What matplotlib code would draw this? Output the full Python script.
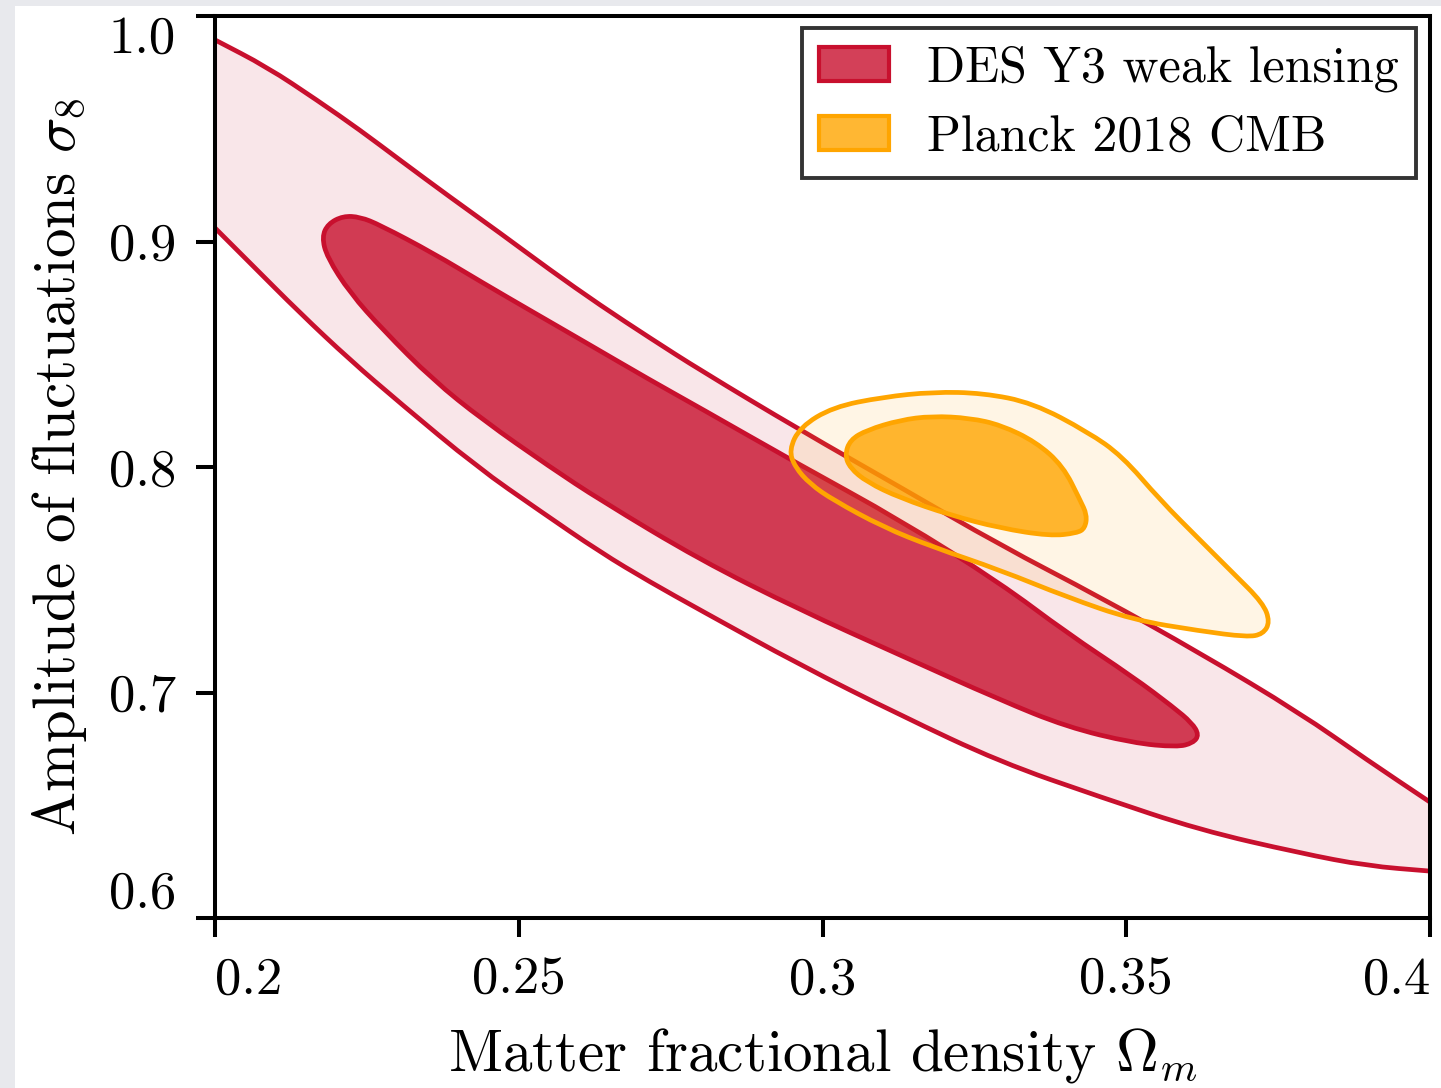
import matplotlib
matplotlib.use("Agg")
import numpy as np
import matplotlib.pyplot as plt
from matplotlib.patches import Patch, Rectangle, PathPatch
from matplotlib.path import Path
from matplotlib.colors import to_rgba

plt.rcParams["font.family"] = "serif"
plt.rcParams["font.serif"] = ["cmr10"]
plt.rcParams["mathtext.fontset"] = "cm"
plt.rcParams["axes.formatter.use_mathtext"] = True

# contour outlines (Omega_m, sigma_8)
des_outer_up_om = [0.2, 0.20856, 0.21679, 0.22387, 0.23045, 0.23868, 0.24691, 0.25514, 0.26337,
                   0.2716, 0.27984, 0.2963, 0.31276, 0.32922, 0.34568, 0.36214, 0.3786, 0.38963, 0.4]
des_outer_up_s8 = [0.9894, 0.9774, 0.9627, 0.9494, 0.9361, 0.9197, 0.9038, 0.8874, 0.8718,
                   0.8572, 0.843, 0.8164, 0.7911, 0.7654, 0.7423, 0.7175, 0.6909, 0.6701, 0.6514]
des_outer_lo_om = [0.2, 0.20576, 0.21399, 0.22222, 0.23045, 0.24313, 0.2535, 0.26337, 0.2716,
                   0.27984, 0.2963, 0.31276, 0.32922, 0.34568, 0.36214, 0.3786, 0.38963, 0.4]
des_outer_lo_s8 = [0.906, 0.8905, 0.8683, 0.8475, 0.8284, 0.8, 0.7805, 0.7623, 0.749,
                   0.7366, 0.7122, 0.69, 0.6692, 0.6537, 0.639, 0.6288, 0.6231, 0.6208]

des_inner_om = [0.21761, 0.2186, 0.22107, 0.22387, 0.22716, 0.23588, 0.24412, 0.25235, 0.26058,
                0.2716, 0.27984, 0.2963, 0.31276, 0.32922, 0.34025, 0.35111, 0.3577, 0.36082,
                0.36198, 0.36099, 0.35835, 0.35111, 0.34025, 0.32922, 0.31276, 0.2963, 0.27984,
                0.26337, 0.25514, 0.24412, 0.23588, 0.22765, 0.22222, 0.21844]
des_inner_s8 = [0.902, 0.9078, 0.9113, 0.9109, 0.9073, 0.8949, 0.8816, 0.8687, 0.8559,
                0.8386, 0.8262, 0.8009, 0.7765, 0.7486, 0.7264, 0.7069, 0.6936, 0.6865,
                0.6812, 0.6776, 0.6758, 0.6776, 0.6847, 0.6967, 0.7166, 0.7366, 0.7588,
                0.7854, 0.8, 0.8208, 0.8386, 0.8608, 0.8772, 0.8931]

planck_outer_om = [0.29449, 0.2963, 0.30173, 0.30996, 0.31819, 0.32642, 0.33465, 0.3437, 0.3493,
                   0.35556, 0.36214, 0.36757, 0.37251, 0.37366, 0.37251, 0.36988, 0.36214, 0.35111,
                   0.34025, 0.32922, 0.31819, 0.30996, 0.30173, 0.29794, 0.29547]
planck_outer_s8 = [0.8075, 0.8177, 0.8266, 0.831, 0.8333, 0.8328, 0.8284, 0.8155, 0.8049,
                   0.7854, 0.7676, 0.753, 0.7397, 0.7313, 0.7259, 0.7246, 0.7273, 0.7322,
                   0.7423, 0.7543, 0.7645, 0.7734, 0.7854, 0.7925, 0.8]

planck_inner_om = [0.3037, 0.30453, 0.30733, 0.31276, 0.31802, 0.32428, 0.32938, 0.33514, 0.33959,
                   0.34239, 0.34354, 0.34321, 0.34189, 0.33745, 0.32922, 0.32099, 0.31276, 0.30733,
                   0.30453]
planck_inner_s8 = [0.8053, 0.812, 0.8164, 0.8208, 0.8226, 0.8217, 0.8186, 0.8111, 0.8004,
                   0.7854, 0.7787, 0.7729, 0.7707, 0.7694, 0.7729, 0.7787, 0.7863, 0.7933,
                   0.7996]

xticks = [0.2, 0.25, 0.3, 0.35, 0.4]
xtick_labels = ["0.2", "0.25", "0.3", "0.35", "0.4"]
yticks = [0.6, 0.7, 0.8, 0.9, 1.0]
ytick_labels = ["0.6", "0.7", "0.8", "0.9", "1.0"]

des_col = "#c8102e"
planck_col = "#ffa500"
lw = 3.4


def smooth_path(xs, ys, closed=True):
    # quadratic bezier through the midpoints, the read points act as control points
    p = np.column_stack([xs, ys])
    if closed:
        m = (p + np.roll(p, -1, axis=0)) / 2
        verts = [m[-1]]
        codes = [Path.MOVETO]
        for i in range(len(p)):
            verts += [p[i], m[i]]
            codes += [Path.CURVE3, Path.CURVE3]
        verts.append(m[-1])
        codes.append(Path.CLOSEPOLY)
    else:
        m = (p[:-1] + p[1:]) / 2
        verts = [p[0], m[0]]
        codes = [Path.MOVETO, Path.LINETO]
        for i in range(1, len(p) - 1):
            verts += [p[i], m[i]]
            codes += [Path.CURVE3, Path.CURVE3]
        verts.append(p[-1])
        codes.append(Path.LINETO)
    return Path(verts, codes)


fig = plt.figure(figsize=(14.41, 10.88), dpi=100, facecolor="#e8e9ed")
fig.patches.append(Rectangle((15 / 1441, 0), 1, 1 - 6 / 1088, transform=fig.transFigure,
                             facecolor="white", edgecolor="none", zorder=-10))
ax = fig.add_axes([215 / 1441, 170 / 1088, 1215 / 1441, 902 / 1088])
ax.set_zorder(1)

# DES
up = smooth_path(des_outer_up_om, des_outer_up_s8, closed=False)
lo = smooth_path(des_outer_lo_om[::-1], des_outer_lo_s8[::-1], closed=False)
band = Path(np.concatenate([up.vertices, lo.vertices]),
            np.concatenate([up.codes, [Path.LINETO] + list(lo.codes[1:])]))
ax.add_patch(PathPatch(band, facecolor=to_rgba(des_col, 0.1), edgecolor="none", zorder=1))
ax.add_patch(PathPatch(up, facecolor="none", edgecolor=des_col, lw=lw, zorder=3))
ax.add_patch(PathPatch(lo, facecolor="none", edgecolor=des_col, lw=lw, zorder=3))
ax.add_patch(PathPatch(smooth_path(des_inner_om, des_inner_s8), facecolor=to_rgba(des_col, 0.8),
                       edgecolor=des_col, lw=lw, zorder=2))

# Planck
ax.add_patch(PathPatch(smooth_path(planck_outer_om, planck_outer_s8),
                       facecolor=to_rgba(planck_col, 0.1), edgecolor=planck_col, lw=lw, zorder=4))
ax.add_patch(PathPatch(smooth_path(planck_inner_om, planck_inner_s8),
                       facecolor=to_rgba(planck_col, 0.8), edgecolor=planck_col, lw=lw, zorder=5))

ax.set_xlim(0.2, 0.4)
ax.set_ylim(0.6, 1.0)
ax.set_xticks(xticks)
ax.set_xticklabels(xtick_labels)
ax.set_yticks(yticks)
ax.set_yticklabels(ytick_labels)
xl = ax.get_xticklabels()
xl[0].set_horizontalalignment("left")
xl[-1].set_horizontalalignment("right")
yl = ax.get_yticklabels()
yl[0].set_verticalalignment("bottom")
yl[-1].set_verticalalignment("top")

ax.tick_params(direction="out", length=14, width=2.9, labelsize=38, pad=14, colors="black")
for s in ax.spines.values():
    s.set_linewidth(2.9)
    s.set_zorder(10)

ax.set_xlabel(r"Matter fractional density $\Omega_m$", fontsize=42.5, labelpad=16)
ax.set_ylabel(r"Amplitude of fluctuations $\sigma_8$", fontsize=42.5, labelpad=14)

handles = [
    Patch(facecolor=to_rgba(des_col, 0.8), edgecolor=des_col, lw=3, label="DES Y3 weak lensing"),
    Patch(facecolor=to_rgba(planck_col, 0.8), edgecolor=planck_col, lw=3, label="Planck 2018 CMB"),
]
leg = ax.legend(handles=handles, loc="upper right", bbox_to_anchor=(0.9885, 0.9867),
                borderaxespad=0, fontsize=36, handlelength=1.4, handleheight=0.68,
                handletextpad=0.75, borderpad=0.35, labelspacing=0.45, fancybox=False,
                framealpha=1, edgecolor="#333333")
leg.get_frame().set_linewidth(2.8)
leg.set_zorder(20)

fig.savefig("out.png", dpi=100, facecolor=fig.get_facecolor())
